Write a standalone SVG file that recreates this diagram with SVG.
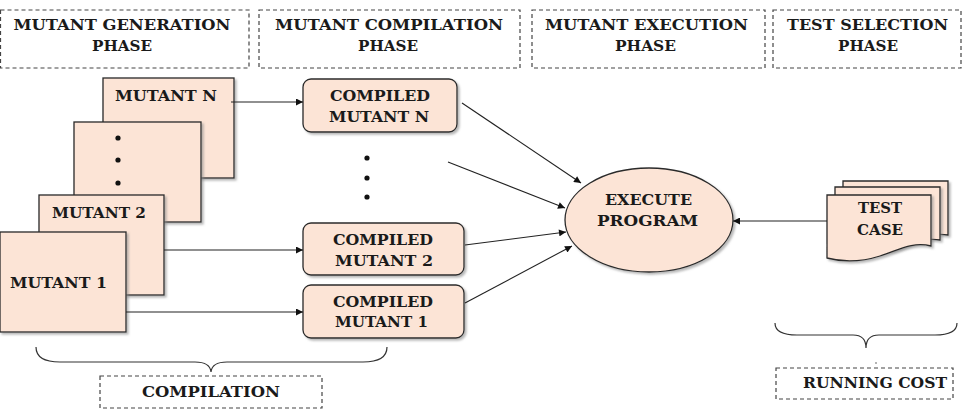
<svg xmlns="http://www.w3.org/2000/svg" width="962" height="414" viewBox="0 0 962 414" font-family="'DejaVu Serif', 'Liberation Serif', serif">
<defs>
<style>
text{font-family:'DejaVu Serif','Liberation Serif',serif}
.t{font-weight:bold;font-size:15.5px;fill:#1a1a1a;text-anchor:middle}
.dash{fill:#fff;stroke:#444;stroke-width:1.2;stroke-dasharray:4,3}
.nd{fill:#fce4d6;stroke:#2a2a2a;stroke-width:1.3;filter:url(#sh)}
.ln{fill:none;stroke:#222;stroke-width:1.1}
.br{fill:none;stroke:#333;stroke-width:1.2}
</style>
<filter id="sh" x="-10%" y="-10%" width="130%" height="130%">
<feDropShadow dx="2" dy="2" stdDeviation="1.2" flood-color="#888" flood-opacity="0.6"/>
</filter>
<marker id="ah" viewBox="0 0 10 10" refX="10" refY="5" markerWidth="9" markerHeight="7" markerUnits="userSpaceOnUse" orient="auto">
<path d="M0,0 L10,5 L0,10 Z" fill="#111"/>
</marker>
</defs>
<rect width="962" height="414" fill="#fff"/>

<g id="phase-generation">
<rect class="dash" x="0.5" y="10" width="248.5" height="58"/>
<text class="t" x="122" y="29.5" textLength="217" lengthAdjust="spacingAndGlyphs">MUTANT GENERATION</text>
<text class="t" x="122" y="50.5" textLength="60" lengthAdjust="spacingAndGlyphs">PHASE</text>
</g>
<g id="phase-compilation">
<rect class="dash" x="259" y="10" width="261" height="58"/>
<text class="t" x="389" y="29.5" textLength="228" lengthAdjust="spacingAndGlyphs">MUTANT COMPILATION</text>
<text class="t" x="388" y="50.5" textLength="60" lengthAdjust="spacingAndGlyphs">PHASE</text>
</g>
<g id="phase-execution">
<rect class="dash" x="532" y="10" width="233" height="58"/>
<text class="t" x="646.5" y="29.5" textLength="203" lengthAdjust="spacingAndGlyphs">MUTANT EXECUTION</text>
<text class="t" x="645.5" y="50.5" textLength="61" lengthAdjust="spacingAndGlyphs">PHASE</text>
</g>
<g id="phase-selection">
<rect class="dash" x="773" y="10" width="188" height="58"/>
<text class="t" x="867.5" y="29.5" textLength="161" lengthAdjust="spacingAndGlyphs">TEST SELECTION</text>
<text class="t" x="868" y="50.5" textLength="60" lengthAdjust="spacingAndGlyphs">PHASE</text>
</g>

<g id="mutant-n">
<rect class="nd" x="103" y="78" width="131" height="100"/>
<text class="t" x="166" y="101" textLength="102" lengthAdjust="spacingAndGlyphs">MUTANT N</text>
</g>
<g id="mutant-dots">
<rect class="nd" x="74" y="122" width="127" height="100"/>
<circle cx="118" cy="138" r="2.6" fill="#111"/>
<circle cx="118" cy="160" r="2.6" fill="#111"/>
<circle cx="118" cy="183" r="2.6" fill="#111"/>
</g>
<g id="mutant-2">
<rect class="nd" x="39" y="195" width="125" height="100"/>
<text class="t" x="99" y="218" textLength="94" lengthAdjust="spacingAndGlyphs">MUTANT 2</text>
</g>
<g id="mutant-1">
<rect class="nd" x="0" y="232" width="126" height="100"/>
<text class="t" x="58.5" y="288" textLength="97" lengthAdjust="spacingAndGlyphs">MUTANT 1</text>
</g>

<g id="compiled-n">
<rect class="nd" x="303" y="79" width="154" height="53" rx="8"/>
<text class="t" x="380" y="100.5" textLength="100" lengthAdjust="spacingAndGlyphs">COMPILED</text>
<text class="t" x="379" y="121.5" textLength="100" lengthAdjust="spacingAndGlyphs">MUTANT N</text>
</g>
<g id="compiled-dots">
<circle cx="367" cy="158" r="2.6" fill="#111"/>
<circle cx="367" cy="178" r="2.6" fill="#111"/>
<circle cx="367" cy="197" r="2.6" fill="#111"/>
</g>
<g id="compiled-2">
<rect class="nd" x="303" y="223" width="161" height="52" rx="8"/>
<text class="t" x="383" y="245" textLength="100" lengthAdjust="spacingAndGlyphs">COMPILED</text>
<text class="t" x="384" y="265.5" textLength="98" lengthAdjust="spacingAndGlyphs">MUTANT 2</text>
</g>
<g id="compiled-1">
<rect class="nd" x="303" y="285" width="161" height="53" rx="8"/>
<text class="t" x="383" y="307" textLength="100" lengthAdjust="spacingAndGlyphs">COMPILED</text>
<text class="t" x="381.5" y="327" textLength="93" lengthAdjust="spacingAndGlyphs">MUTANT 1</text>
</g>

<g id="execute-program">
<ellipse class="nd" cx="649" cy="220" rx="84" ry="52"/>
<text class="t" x="648.5" y="205" textLength="87" lengthAdjust="spacingAndGlyphs">EXECUTE</text>
<text class="t" x="647.5" y="226" textLength="101" lengthAdjust="spacingAndGlyphs">PROGRAM</text>
</g>

<g id="test-case">
<path class="nd" d="M843,181 H948 V235 C930,232 915,240 900,244 L843,244 Z"/>
<path class="nd" d="M835,187 H940 V240 C922,237 907,246 892,250 L835,250 Z"/>
<path class="nd" d="M827,195 H931 V246 C912,241 897,251 880,256 C858,263 842,262 827,258 Z"/>
<text class="t" x="880" y="213" textLength="44" lengthAdjust="spacingAndGlyphs">TEST</text>
<text class="t" x="880" y="235" textLength="46" lengthAdjust="spacingAndGlyphs">CASE</text>
</g>

<g id="compilation">
<path class="br" d="M36,347 Q36,362 60,362 H195 Q210,362 211,372 Q212,362 227,362 H363 Q387,362 387,347"/>
<rect class="dash" x="100" y="376" width="222" height="32"/>
<text class="t" x="211" y="397" textLength="138" lengthAdjust="spacingAndGlyphs">COMPILATION</text>
</g>

<g id="running-cost">
<path class="br" d="M775,323 Q775,335 797,335 H853 Q866,335 866,348 Q866,335 879,335 H935 Q957,335 957,323"/>
<circle cx="876" cy="363" r="0.8" fill="#555"/>
<rect class="dash" x="776" y="368" width="177" height="31"/>
<text class="t" x="875" y="388" textLength="144" lengthAdjust="spacingAndGlyphs">RUNNING COST</text>
</g>

<g id="connectors">
<line class="ln" x1="231" y1="102" x2="303" y2="102" marker-end="url(#ah)"/>
<line class="ln" x1="164" y1="250" x2="303" y2="250" marker-end="url(#ah)"/>
<line class="ln" x1="126" y1="312" x2="303" y2="312" marker-end="url(#ah)"/>
<line class="ln" x1="462" y1="103" x2="581" y2="183" marker-end="url(#ah)"/>
<line class="ln" x1="448" y1="162" x2="565" y2="208" marker-end="url(#ah)"/>
<line class="ln" x1="465" y1="245" x2="566" y2="232" marker-end="url(#ah)"/>
<line class="ln" x1="465" y1="303" x2="572" y2="246" marker-end="url(#ah)"/>
<line class="ln" x1="827" y1="221" x2="733" y2="221" marker-end="url(#ah)"/>
</g>
</svg>
